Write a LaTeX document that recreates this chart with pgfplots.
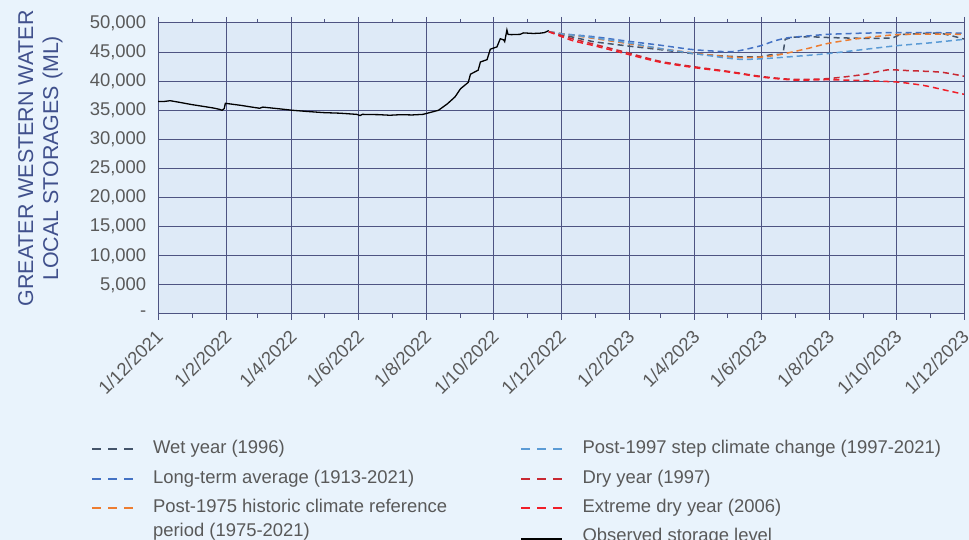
\documentclass[border=0pt]{standalone}
\usepackage{pgfplots}
\pgfplotsset{compat=1.18}
\usepackage{fontspec}
\setmainfont{Liberation Sans}
\definecolor{bgout}{RGB}{233,243,252}
\definecolor{bgin}{RGB}{222,234,247}
\definecolor{gridc}{RGB}{78,84,130}
\definecolor{labc}{RGB}{64,80,140}
\definecolor{tickc}{RGB}{89,89,89}
\definecolor{wet}{RGB}{68,84,106}
\definecolor{lta}{RGB}{68,114,196}
\definecolor{p75}{RGB}{237,125,49}
\definecolor{p97}{RGB}{91,155,213}
\definecolor{dry}{RGB}{200,40,50}
\definecolor{xdry}{RGB}{240,30,40}
\pgfplotsset{obsleg/.style={legend image code/.code={\draw[##1] (0bp,-5bp) -- (41bp,-5bp);}}}

\pgfplotstableread{
d v
0 36500
5 36500
11 36650
20 36350
30 36000
40 35700
50 35400
56 35150
58 35000
60 35300
61 36200
65 36100
75 35850
85 35550
92 35350
95 35550
100 35450
110 35250
122 35000
135 34800
150 34600
165 34500
180 34300
183 34100
185 34300
200 34250
210 34150
220 34250
230 34200
240 34300
248 34700
254 35000
262 36100
269 37300
274 38700
281 39800
283 41200
290 41900
292 43300
298 43700
301 45500
307 45900
310 47300
313 47100
314 46800
316 48800
317 48050
320 48000
328 48050
331 48300
340 48200
346 48250
350 48350
354 48700
}\observed

\pgfplotstableread{
d v
354 48500
374 47640
395 46760
425 46060
455 45420
485 44720
510 44350
530 44150
546 44200
555 44550
566 44650
568 47200
575 47550
590 47650
607 47500
640 47350
665 47400
672 48000
697 48250
709 48250
721 47700
730 47250
}\wet

\pgfplotstableread{
d v
354 48500
367 48120
395 47640
425 46880
455 46180
485 45420
516 45060
528 45300
546 46100
558 46900
570 47450
590 47800
607 48050
637 48250
669 48350
700 48350
730 48250
}\lta

\pgfplotstableread{
d v
354 48500
380 47760
425 46480
455 45600
488 44770
510 44300
528 44050
547 44150
564 44600
588 45600
607 46500
637 47400
669 48000
700 48100
730 48050
}\pseventyfive

\pgfplotstableread{
d v
354 48500
367 48100
386 47700
426 46600
455 45600
488 44700
510 44100
528 43750
547 43850
576 44250
607 44750
637 45400
669 46100
700 46600
730 47200
}\pninetyseven

\pgfplotstableread{
d v
354 48500
375 47300
395 46350
425 44900
455 43400
485 42500
516 41700
547 40800
576 40300
607 40450
639 41150
661 41950
676 41850
709 41550
730 40850
}\dry

\pgfplotstableread{
d v
354 48500
375 47000
395 46100
425 44650
455 43250
485 42350
516 41600
547 40700
576 40200
607 40250
639 40100
670 39850
694 39250
712 38500
730 37750
}\xdry

\begin{document}
\begin{tikzpicture}[x=1bp,y=1bp]
\useasboundingbox (0,0) rectangle (969,540);
\fill[bgout] (0,0) rectangle (969,540);
\begin{axis}[
  at={(158bp,226bp)}, anchor=south west,
  width=806bp, height=291bp, scale only axis,
  xmin=0, xmax=730, ymin=0, ymax=50000,
  scaled y ticks=false,
  axis background/.style={fill=bgin},
  axis line style={gridc, line width=1bp},
  grid=major,
  major grid style={gridc, line width=1bp},
  xtick={0,62,121,182,243,304,365,427,486,547,608,669,730},
  xticklabels={1/12/2021,1/2/2022,1/4/2022,1/6/2022,1/8/2022,1/10/2022,1/12/2022,1/2/2023,1/4/2023,1/6/2023,1/8/2023,1/10/2023,1/12/2023},
  minor xtick={31,90,151,212,274,335,396,455,516,577,639,700},
  ytick={0,5000,10000,15000,20000,25000,30000,35000,40000,45000,50000},
  yticklabels={-,{5,000},{10,000},{15,000},{20,000},{25,000},{30,000},{35,000},{40,000},{45,000},{50,000}},
  tick align=outside,
  xtick style={gridc, line width=1bp},
  major x tick style={/pgfplots/major tick length=6bp},
  minor x tick style={/pgfplots/minor tick length=4bp},
  ytick style={draw=none},
  xticklabel style={xshift=4bp, yshift=-12.5bp, rotate=45, anchor=east, font=\fontsize{18.5}{22}\selectfont, text=tickc},
  yticklabel style={font=\fontsize{18.5}{22}\selectfont, text=tickc, xshift=-4bp},
  ylabel={GREATER WESTERN WATER\\LOCAL STORAGES (ML)},
  ylabel style={at={(axis description cs:-0.146,0.535)}, anchor=center, align=center, font=\fontsize{21.5}{25}\selectfont, text=labc},
  legend columns=2,
  legend cell align=left,
  legend image code/.code={\draw[#1] (0bp,0bp) -- (41bp,0bp);},
  legend style={at={(-0.087,-0.428)}, anchor=north west, draw=none, fill=none,
    font=\fontsize{18.5}{22}\selectfont, text=tickc,
    nodes={inner sep=0pt, text height=13bp, text depth=4bp},
    row sep=12.5bp,
    /tikz/every odd column/.append style={column sep=19bp},
    /tikz/every even column/.append style={column sep=73bp}},
]
\addplot[forget plot, black, line width=1.3bp] table[x=d,y=v] {\observed};
\addplot[forget plot, wet, line width=1.5bp, dash pattern=on 6bp off 4bp] table[x=d,y=v] {\wet};
\addplot[forget plot, lta, line width=1.5bp, dash pattern=on 6bp off 4bp, smooth, tension=0.4] table[x=d,y=v] {\lta};
\addplot[forget plot, p75, line width=1.5bp, dash pattern=on 6bp off 4bp, smooth, tension=0.4] table[x=d,y=v] {\pseventyfive};
\addplot[forget plot, p97, line width=1.5bp, dash pattern=on 6bp off 4bp, smooth, tension=0.4] table[x=d,y=v] {\pninetyseven};
\addplot[forget plot, dry, line width=1.5bp, dash pattern=on 6bp off 4bp, smooth, tension=0.4] table[x=d,y=v] {\dry};
\addplot[forget plot, xdry, line width=1.5bp, dash pattern=on 6bp off 4bp, smooth, tension=0.4] table[x=d,y=v] {\xdry};
\addlegendimage{wet, line width=2bp, dash pattern=on 8.5bp off 7.5bp}
\addlegendentry{Wet year (1996)}
\addlegendimage{p97, line width=2bp, dash pattern=on 8.5bp off 7.5bp}
\addlegendentry{Post-1997 step climate change (1997-2021)}
\addlegendimage{lta, line width=2bp, dash pattern=on 8.5bp off 7.5bp}
\addlegendentry{Long-term average (1913-2021)}
\addlegendimage{dry, line width=2bp, dash pattern=on 8.5bp off 7.5bp}
\addlegendentry{Dry year (1997)}
\addlegendimage{p75, line width=2bp, dash pattern=on 8.5bp off 7.5bp}
\addlegendentry{Post-1975 historic climate reference}
\addlegendimage{xdry, line width=2bp, dash pattern=on 8.5bp off 7.5bp}
\addlegendentry{Extreme dry year (2006)}
\addlegendimage{empty legend}
\addlegendentry[text height=7bp]{period (1975-2021)}
\addlegendimage{black, line width=2.5bp, obsleg}
\addlegendentry[text height=7bp, yshift=-5bp]{Observed storage level}
\end{axis}
\end{tikzpicture}
\end{document}
